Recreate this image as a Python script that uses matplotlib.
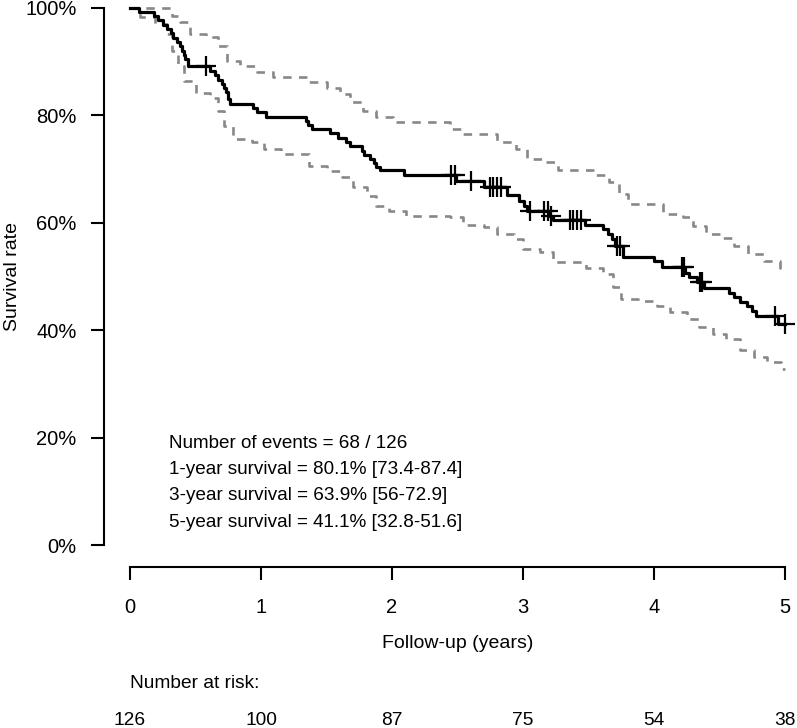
import numpy as np
import matplotlib
matplotlib.use("Agg")
import matplotlib.pyplot as plt

plt.rcParams['font.family'] = ['Liberation Sans', 'DejaVu Sans']

# ---- Data ----
# Kaplan-Meier estimate: step times (years) and survival (%) after each step
km_time = [0.00, 0.07, 0.18, 0.21, 0.25, 0.28, 0.31, 0.33, 0.36, 0.38, 0.40, 0.41, 0.42, 0.44,
           0.61, 0.65, 0.67, 0.70, 0.72, 0.73, 0.75, 0.76, 0.94, 0.97, 1.04,
           1.34, 1.36, 1.39, 1.53, 1.59, 1.65, 1.68, 1.77, 1.79, 1.83, 1.86, 1.88, 1.91,
           2.09, 2.49, 2.70, 2.88, 2.97, 3.01, 3.03, 3.20, 3.23, 3.47,
           3.61, 3.65, 3.68, 3.70, 3.76, 4.00, 4.06, 4.24, 4.27, 4.33, 4.38,
           4.57, 4.61, 4.66, 4.71, 4.75, 4.78, 4.95, 5.00]
km_surv = [100.0, 99.2, 98.4, 97.6, 96.8, 96.0, 95.2, 94.4, 93.6, 92.8, 92.0, 91.2, 90.4, 89.2,
           88.2, 87.4, 86.6, 85.8, 85.0, 84.2, 83.0, 82.1, 81.3, 80.5, 79.7,
           78.9, 78.2, 77.4, 76.6, 75.8, 75.0, 74.2, 73.4, 72.6, 71.8, 71.1, 70.4, 69.8,
           68.9, 67.8, 66.7, 65.2, 64.1, 63.1, 62.2, 61.3, 60.5, 59.5,
           58.8, 57.9, 56.9, 55.7, 53.7, 52.9, 51.8, 50.7, 49.9, 49.0, 47.9,
           47.0, 46.2, 45.3, 44.5, 43.6, 42.6, 41.1, 41.1]

# Upper 95% confidence limit
up_time = [0.00, 0.32, 0.38, 0.46, 0.58, 0.67, 0.74, 0.84, 0.97, 1.09, 1.35, 1.50, 1.60,
           1.68, 1.78, 1.88, 2.01, 2.44, 2.54, 2.80, 2.95, 3.03, 3.16, 3.27, 3.55, 3.66,
           3.73, 3.80, 4.07, 4.22, 4.30, 4.40, 4.53, 4.61, 4.72, 4.84, 4.96, 5.00]
up_surv = [100.0, 98.5, 97.3, 95.1, 94.5, 92.9, 90.1, 89.2, 88.0, 87.0, 86.1, 85.0, 83.9,
           82.4, 80.8, 79.6, 78.7, 77.4, 76.5, 74.9, 73.7, 71.8, 71.2, 69.8, 68.8, 67.5,
           65.3, 63.4, 61.6, 61.0, 59.4, 57.9, 57.2, 55.7, 54.1, 52.9, 51.6, 51.6]

# Lower 95% confidence limit
lo_time = [0.00, 0.08, 0.19, 0.28, 0.32, 0.37, 0.41, 0.50, 0.61, 0.67, 0.72, 0.79, 0.93,
           1.02, 1.15, 1.37, 1.50, 1.62, 1.70, 1.81, 1.88, 1.98, 2.11, 2.44, 2.54, 2.70,
           2.80, 2.93, 3.00, 3.13, 3.23, 3.48, 3.61, 3.69, 3.75, 3.88, 4.02, 4.12, 4.25,
           4.34, 4.45, 4.55, 4.66, 4.76, 4.86, 4.97, 5.00]
lo_surv = [100.0, 98.2, 97.0, 95.1, 92.0, 89.2, 86.4, 84.1, 83.1, 80.8, 78.0, 75.5, 74.9,
           73.7, 72.8, 70.6, 69.6, 68.4, 66.6, 65.0, 63.1, 62.2, 61.3, 61.0, 59.5, 59.1,
           57.9, 56.9, 55.1, 54.5, 52.6, 51.5, 50.4, 48.1, 45.8, 45.4, 44.5, 43.3, 42.0,
           40.5, 39.2, 38.3, 36.4, 35.1, 34.0, 32.8, 32.8]

# Censoring times (years)
censor_time = [0.58, 2.45, 2.48, 2.60, 2.75, 2.77, 2.80, 2.83, 3.05, 3.16, 3.19, 3.21,
               3.36, 3.38, 3.41, 3.44, 3.72, 3.74, 4.21, 4.23, 4.35, 4.37, 4.92, 5.00]

x_ticks = [0, 1, 2, 3, 4, 5]
y_ticks = [0, 20, 40, 60, 80, 100]
y_tick_labels = ["0%", "20%", "40%", "60%", "80%", "100%"]
at_risk = [126, 100, 87, 75, 54, 38]

summary_lines = ["Number of events = 68 / 126",
                 "1-year survival = 80.1% [73.4-87.4]",
                 "3-year survival = 63.9% [56-72.9]",
                 "5-year survival = 41.1% [32.8-51.6]"]

# ---- Figure ----
W, H = 797, 728
fig = plt.figure(figsize=(W / 100, H / 100), dpi=100)
ax_left, ax_right = 103.8, 811.2
ax_top, ax_bottom = -14.0, 566.8
ax = fig.add_axes([ax_left / W, (H - ax_bottom) / H,
                   (ax_right - ax_left) / W, (ax_bottom - ax_top) / H])
ax.set_xlim(-0.2, 5.2)
ax.set_ylim(-4, 104)
ax.patch.set_visible(False)

km_t = np.array(km_time)
km_s = np.array(km_surv)

ax.step(up_time, up_surv, where='post', color='#888888', lw=1.9,
        linestyle=(0, (3.2, 2.8)), clip_on=False)
ax.step(lo_time, lo_surv, where='post', color='#888888', lw=1.9,
        linestyle=(0, (3.2, 2.8)), clip_on=False)
ax.step(km_t, km_s, where='post', color='black', lw=2.3, clip_on=False)

ct = np.array(censor_time)
idx = np.searchsorted(km_t, ct, side='right') - 1
ax.plot(ct, km_s[idx], linestyle='none', marker='+', color='black',
        markersize=14, markeredgewidth=1.6, clip_on=False)

# Axes styling (R base style: detached axes)
for s in ['top', 'right']:
    ax.spines[s].set_visible(False)
ax.spines['left'].set_bounds(0, 100)
ax.spines['bottom'].set_bounds(0, 5)
for s in ['left', 'bottom']:
    ax.spines[s].set_linewidth(1.5)
ax.set_xticks(x_ticks)
ax.set_xticklabels([str(v) for v in x_ticks])
ax.set_yticks(y_ticks)
ax.set_yticklabels(y_tick_labels)
ax.tick_params(axis='both', direction='out', length=9.5, width=1.5, labelsize=14.5)
ax.tick_params(axis='x', pad=13)
ax.tick_params(axis='y', pad=10)

ax.set_xlabel("Follow-up (years)", fontsize=14)
ax.xaxis.set_label_coords(0.5, (ax_bottom - 643) / (ax_bottom - ax_top))
ax.xaxis.label.set_va('center')
ax.set_ylabel("Survival rate", fontsize=14)
ax.yaxis.set_label_coords((12 - ax_left) / (ax_right - ax_left), 0.5)
ax.yaxis.label.set_va('center')

# Summary text
y0, dy = 18.1, 4.88
for i, line in enumerate(summary_lines):
    ax.text(0.30, y0 - i * dy, line, ha='left', va='baseline', fontsize=13.6)

# Number at risk
ax.text(0, -26.6, "Number at risk:", ha='left', va='baseline', fontsize=13.8, clip_on=False)
for xv, n in zip(x_ticks, at_risk):
    ax.text(xv, -33.4, str(n), ha='center', va='baseline', fontsize=13.8, clip_on=False)

fig.savefig("out.png", dpi=100)
